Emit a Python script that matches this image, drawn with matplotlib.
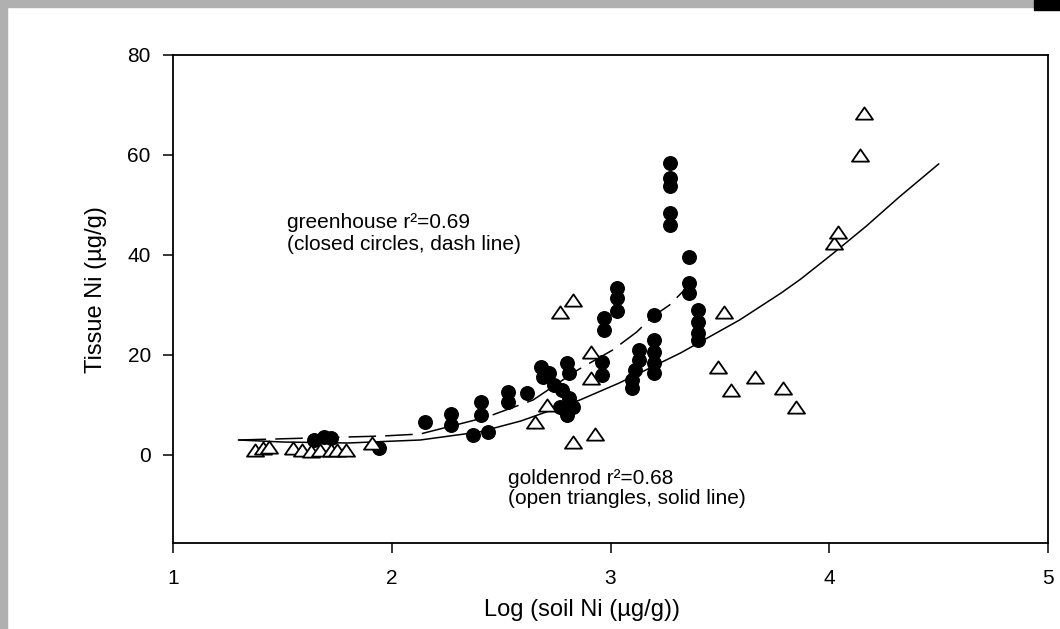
import matplotlib.pyplot as plt
import numpy as np
from matplotlib.path import Path
from matplotlib.patches import Rectangle

plt.rcParams['font.family'] = ['Liberation Sans', 'DejaVu Sans']

# greenhouse (closed circles)
gh_x = [1.645, 1.69, 1.72, 1.94, 2.15, 2.27, 2.27, 2.37, 2.41, 2.41, 2.44,
        2.53, 2.53, 2.62, 2.68, 2.69, 2.72, 2.74, 2.77, 2.78, 2.80, 2.80, 2.81,
        2.81, 2.83, 2.96, 2.96, 2.97, 2.97, 3.03, 3.03, 3.03, 3.10, 3.10, 3.11,
        3.13, 3.13, 3.20, 3.20, 3.20, 3.20, 3.20, 3.27, 3.27, 3.27, 3.27, 3.27,
        3.36, 3.36, 3.36, 3.40, 3.40, 3.40, 3.40]
gh_y = [3.0, 3.6, 3.4, 1.4, 6.6, 8.2, 6.0, 4.0, 10.6, 8.0, 4.6,
        12.6, 10.6, 12.4, 17.6, 15.6, 16.4, 14.0, 9.6, 13.0, 18.4, 8.0, 16.4,
        11.4, 9.6, 18.6, 16.0, 27.4, 25.0, 33.4, 31.4, 28.8, 15.0, 13.4, 17.0,
        21.0, 19.0, 28.0, 23.0, 20.6, 18.4, 16.4, 58.4, 55.4, 53.8, 48.4, 46.0,
        39.6, 34.4, 32.4, 29.0, 26.6, 24.4, 23.0]

# goldenrod (open triangles)
gr_x = [1.375, 1.41, 1.44, 1.55, 1.59, 1.63, 1.67, 1.72, 1.75, 1.79, 1.91,
        2.655, 2.71, 2.77, 2.83, 2.91, 2.91, 2.83, 2.93,
        3.52, 3.49, 3.55, 3.66, 3.79, 3.85, 4.02, 4.04, 4.14, 4.16]
gr_y = [1.0, 1.4, 1.6, 1.4, 1.0, 0.8, 1.0, 1.0, 1.0, 1.0, 2.4,
        6.6, 10.0, 28.6, 31.0, 20.6, 15.4, 2.6, 4.2,
        28.6, 17.6, 13.0, 15.6, 13.4, 9.6, 42.4, 44.6, 60.0, 68.4]

# fitted curves
gh_fit_x = [1.30, 1.96, 2.13, 2.435, 2.646, 2.85, 3.01, 3.12, 3.19, 3.27, 3.36]
gh_fit_y = [3.0, 3.8, 4.2, 7.6, 11.0, 17.0, 21.0, 24.6, 27.6, 30.0, 34.0]
gr_fit_x = [1.30, 1.50, 1.80, 2.13, 2.40, 2.59, 2.86, 3.04, 3.32, 3.59, 3.78,
            3.87, 4.02, 4.17, 4.32, 4.50]
gr_fit_y = [3.0, 2.6, 2.4, 3.0, 4.6, 6.8, 11.0, 14.4, 20.4, 27.0, 32.4,
            35.2, 40.4, 45.8, 51.6, 58.2]

x_ticks = [1, 2, 3, 4, 5]
y_ticks = [0, 20, 40, 60, 80]

# wide open triangle
tri = Path([(-1, -0.72), (1, -0.72), (0, 0.72), (-1, -0.72)],
           [Path.MOVETO, Path.LINETO, Path.LINETO, Path.CLOSEPOLY])

fig = plt.figure(figsize=(10.6, 6.29), dpi=100)
ax = fig.add_axes([173 / 1060, 86 / 629, 875 / 1060, 488 / 629])

ax.plot(gr_fit_x, gr_fit_y, color='black', lw=1.1, zorder=2)
ax.plot(gh_fit_x, gh_fit_y, color='black', lw=1.1, linestyle=(0, (18, 6)), zorder=2)
ax.scatter(gh_x, gh_y, s=95, color='black', zorder=3)
ax.scatter(gr_x, gr_y, s=150, marker=tri, facecolors='white', edgecolors='black',
           linewidths=1.3, zorder=4)

ax.text(1.52, 46.4, 'greenhouse r\u00b2=0.69', fontsize=15, va='center')
ax.text(1.52, 42.0, '(closed circles, dash line)', fontsize=15, va='center')
ax.text(2.53, -4.6, 'goldenrod r\u00b2=0.68', fontsize=15, va='center')
ax.text(2.53, -8.6, '(open triangles, solid line)', fontsize=15, va='center')

ax.set_xlim(1, 5)
ax.set_ylim(-17.6, 80)
ax.set_xticks(x_ticks)
ax.set_yticks(y_ticks)
ax.tick_params(direction='out', length=7, width=1.1, labelsize=15)
ax.tick_params(axis='x', pad=12)
ax.tick_params(axis='y', pad=9)
for s in ax.spines.values():
    s.set_linewidth(1.3)

ax.set_xlabel('Log (soil Ni (\u00b5g/g))', fontsize=17)
ax.set_ylabel('Tissue Ni (\u00b5g/g)', fontsize=17)
ax.xaxis.set_label_coords(0.467, -0.115)
ax.yaxis.set_label_coords(-0.075, 0.52)

# scanned page edges
fig.patches.extend([
    Rectangle((0, 1 - 7 / 629), 1, 7 / 629, transform=fig.transFigure, color='#b0b0b0', zorder=0),
    Rectangle((0, 0), 7 / 1060, 1, transform=fig.transFigure, color='#b0b0b0', zorder=0),
    Rectangle((1034 / 1060, 1 - 10 / 629), 26 / 1060, 10 / 629, transform=fig.transFigure,
              color='black', zorder=1),
])

fig.savefig('out.png', dpi=100)
